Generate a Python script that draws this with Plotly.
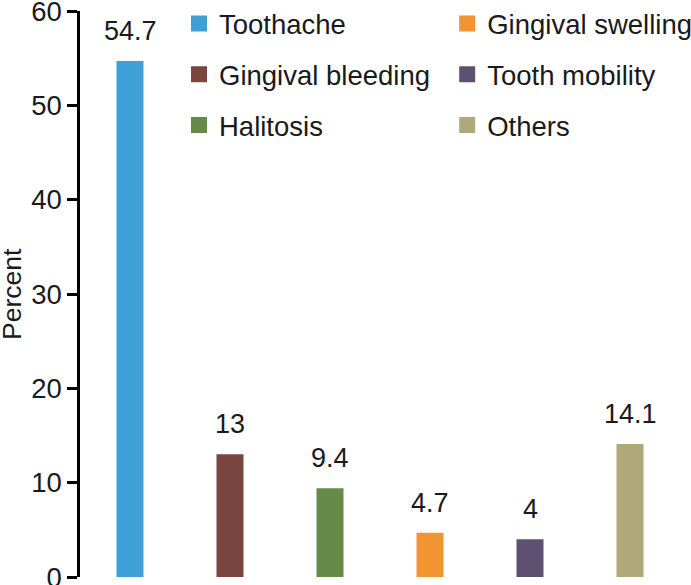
import plotly.graph_objects as go

categories = ["Toothache", "Gingival bleeding", "Halitosis", "Gingival swelling", "Tooth mobility", "Others"]
values = [54.7, 13, 9.4, 4.7, 4, 14.1]
labels = ["54.7", "13", "9.4", "4.7", "4", "14.1"]
colors = ["#3FA0D8", "#7B4540", "#668A4A", "#F39433", "#5E5070", "#AFA878"]
legend_ids = ["legend", "legend", "legend", "legend2", "legend2", "legend2"]
y_title = "Percent"

FONT = "Liberation Sans, Arial, sans-serif"
TXT = "#1a1a1a"

fig = go.Figure()
for i, (c, v, col, lg) in enumerate(zip(categories, values, colors, legend_ids)):
    fig.add_trace(go.Bar(
        x=[c], y=[v], name=c, marker=dict(color=col, line=dict(width=0)),
        width=0.27, showlegend=False, hoverinfo="x+y",
    ))
    # legend entry with a larger square swatch
    fig.add_trace(go.Scatter(
        x=[None], y=[None], mode="markers", name=c,
        marker=dict(symbol="square", size=16, color=col, line=dict(width=0)),
        legend=lg, legendgroup=c, showlegend=True,
    ))
    fig.add_annotation(x=c, y=v, text=labels[i], showarrow=False,
                       yanchor="bottom", yshift=13,
                       font=dict(size=27, color=TXT, family=FONT))

# y-axis title
fig.add_annotation(xref="paper", yref="paper", x=-80 / 600, y=0.5,
                   xanchor="left", yanchor="middle", textangle=-90,
                   text=y_title, showarrow=False, xshift=-5,
                   font=dict(size=26.5, color=TXT, family=FONT))

fig.update_layout(
    width=691, height=585,
    margin=dict(l=80, r=11, t=11, b=8, autoexpand=False),
    plot_bgcolor="white", paper_bgcolor="white",
    barmode="overlay",
    font=dict(family=FONT, size=27, color=TXT),
    xaxis=dict(type="category", categoryorder="array", categoryarray=categories,
               range=[-0.5, 5.5], showticklabels=False,
               showline=False, showgrid=False, zeroline=False, ticks="",
               automargin=False),
    yaxis=dict(range=[0, 60], dtick=10, showgrid=False, zeroline=False,
               showline=True, linecolor="black", linewidth=2.5,
               ticks="outside", ticklen=10, tickwidth=2.5, tickcolor="black",
               tickfont=dict(size=27.5, color=TXT), automargin=False,
               ticklabeloverflow="allow"),
    legend=dict(x=0.165, y=1.021, xanchor="left", yanchor="top",
                orientation="v", tracegroupgap=12, itemsizing="trace",
                font=dict(size=27.5, color=TXT), bgcolor="rgba(0,0,0,0)",
                itemwidth=30),
    legend2=dict(x=0.612, y=1.021, xanchor="left", yanchor="top",
                 orientation="v", tracegroupgap=12, itemsizing="trace",
                 font=dict(size=27.5, color=TXT), bgcolor="rgba(0,0,0,0)",
                 itemwidth=30),
)

fig.write_html("out.html", config={"displayModeBar": False},
               post_script="document.body.style.margin='0';")
